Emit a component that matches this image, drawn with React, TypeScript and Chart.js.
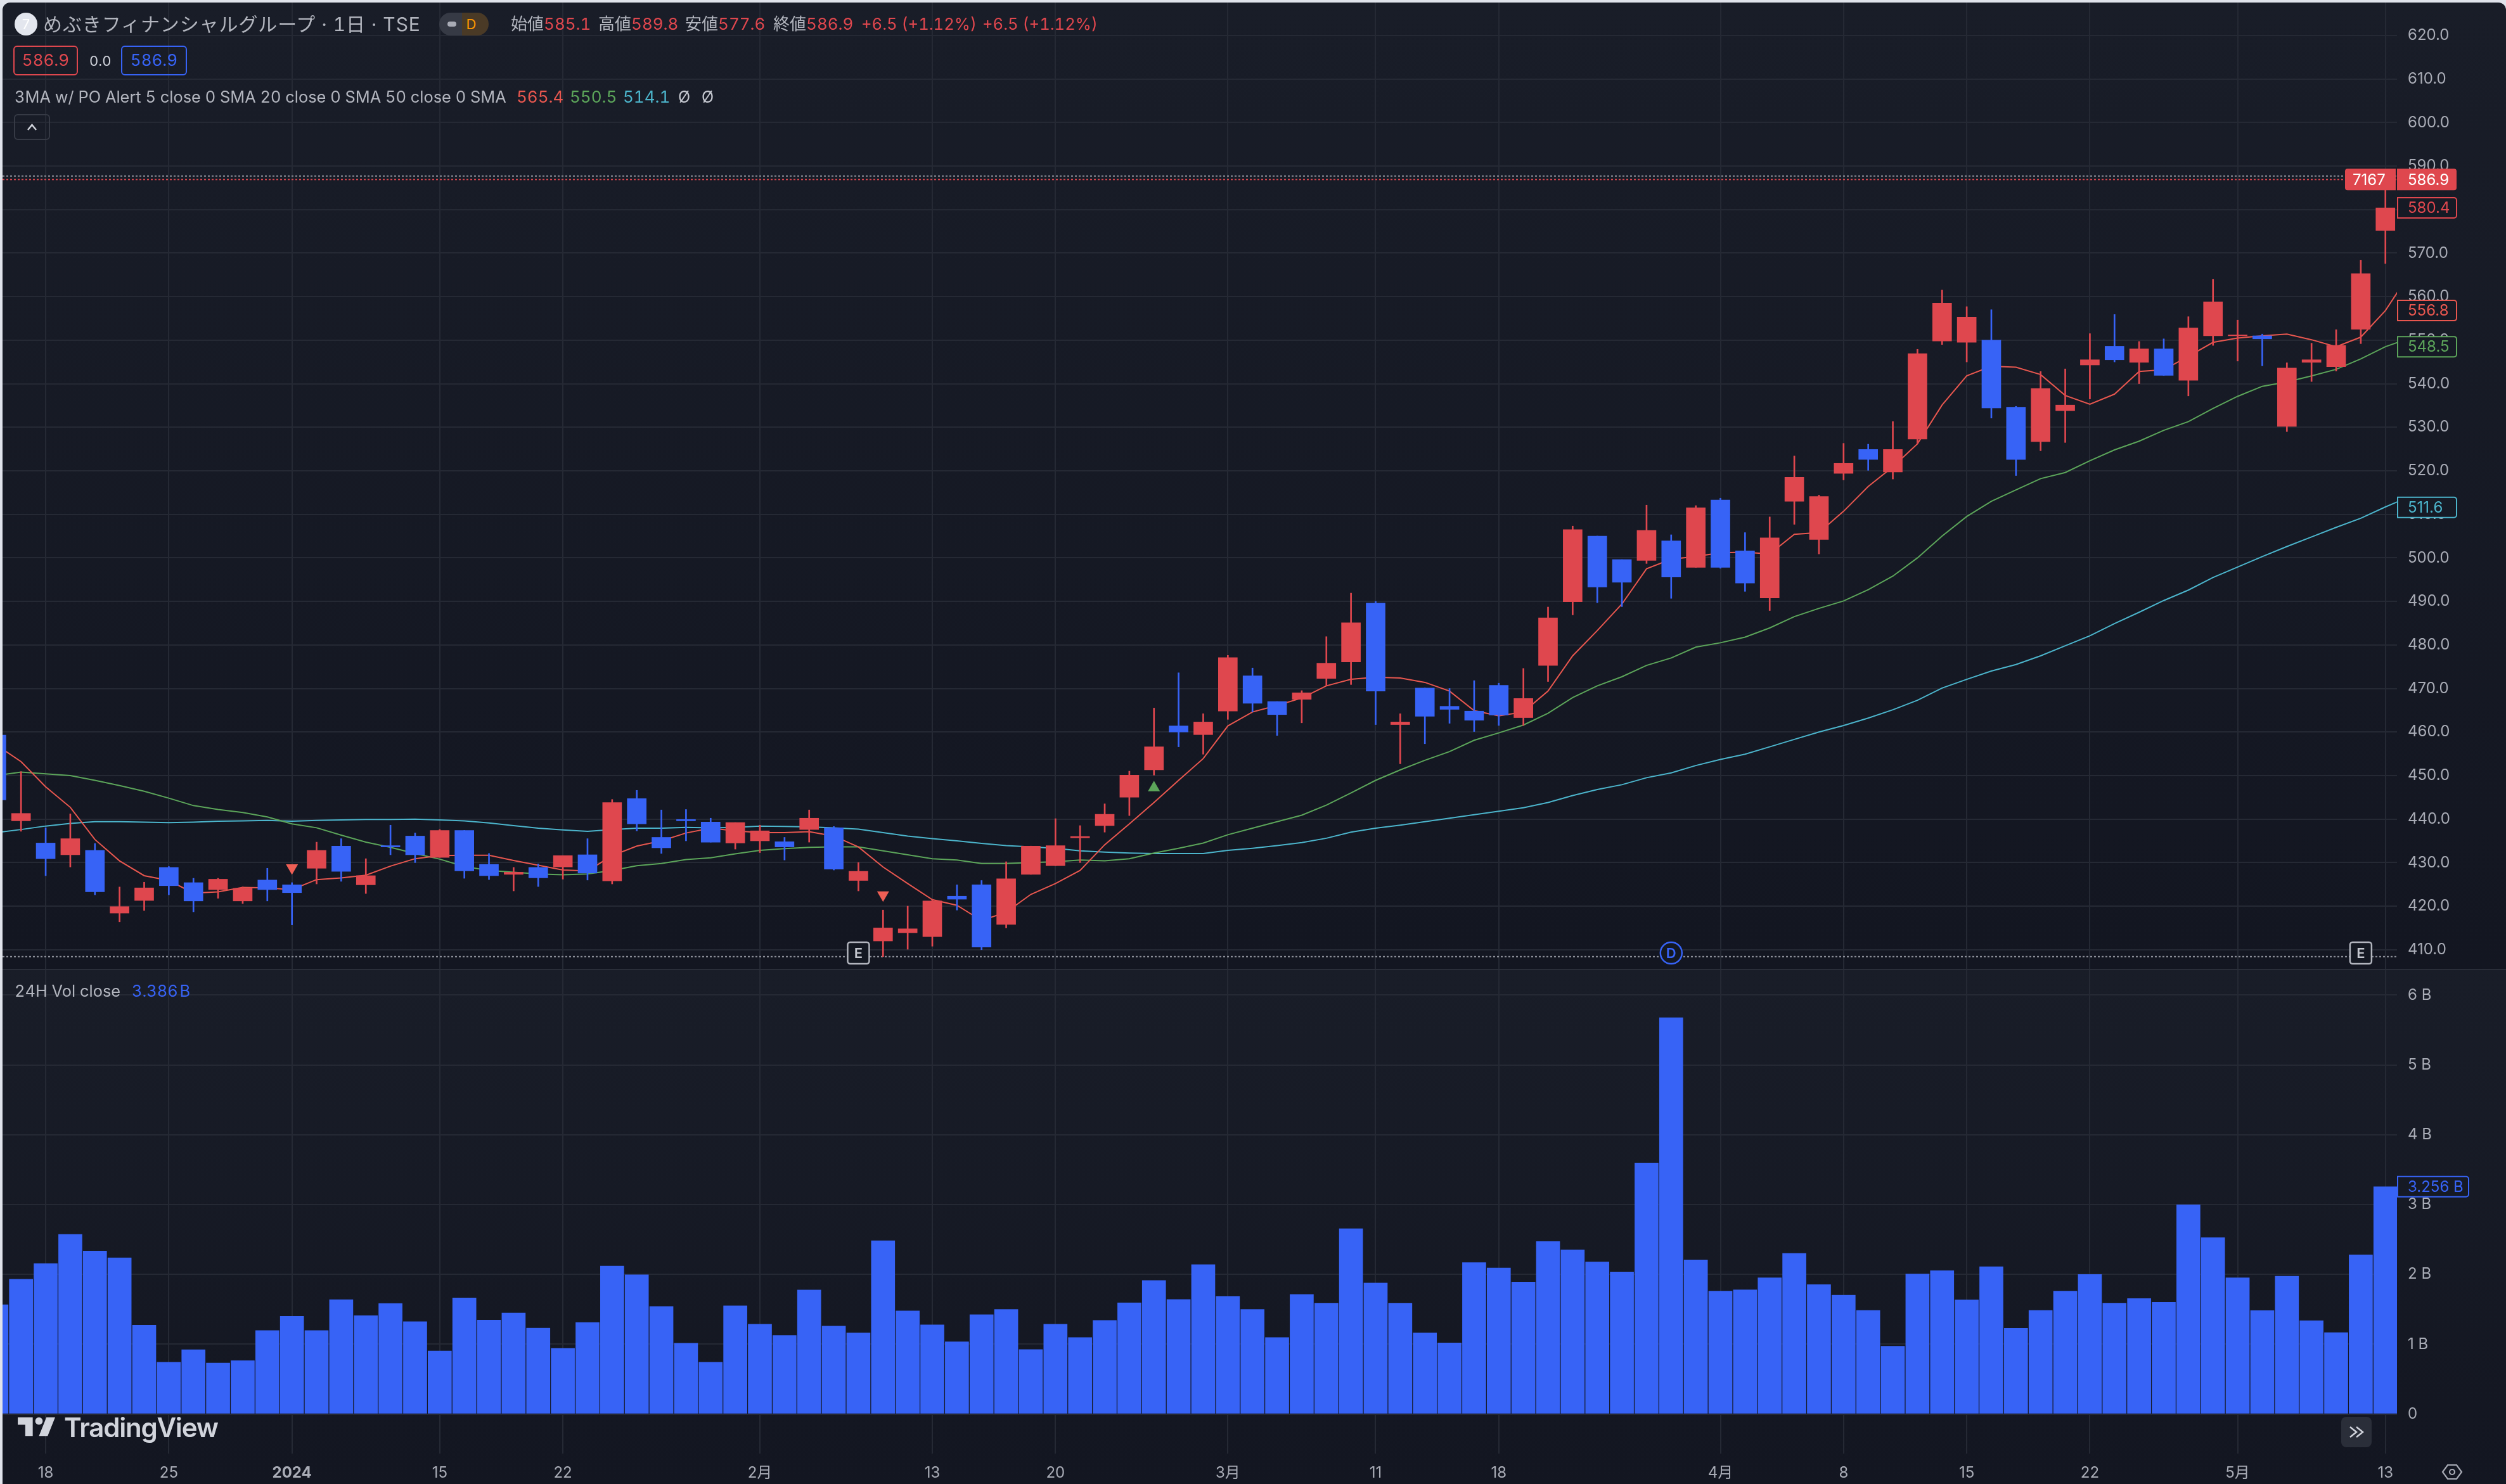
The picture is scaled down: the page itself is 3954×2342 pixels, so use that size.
import React, { useEffect, useRef } from "react";
import { Chart, registerables } from "chart.js";

Chart.register(...registerables);

// ---------- data (index 98 lies just past the right edge of the plot) ----------
const opens = [459.3,439.6,434.5,431.8,432.8,418.4,421.3,428.9,425.4,423.8,421.2,426.0,424.9,428.7,433.8,424.9,433.9,436.1,431.2,437.4,429.6,427.3,428.9,429.0,431.8,425.8,444.7,435.8,439.9,439.3,434.5,435.0,434.8,437.6,438.0,425.9,412.0,413.9,413.0,422.3,424.9,415.8,427.3,429.3,435.7,438.5,445.0,451.3,461.4,459.4,464.8,472.9,467.0,467.5,472.3,476.1,489.6,461.7,470.1,465.9,464.8,470.7,463.3,475.3,489.9,505.0,499.6,499.4,503.9,497.8,513.3,501.6,490.8,513.0,504.2,519.4,524.9,519.7,527.3,549.8,549.5,550.0,534.6,526.7,533.8,544.3,548.6,544.9,548.0,540.8,551.0,551.0,551.0,530.2,544.9,543.9,552.5,575.2,585.1];
const highs = [460.5,450.9,438.0,441.2,434.4,424.4,425.5,429.1,426.4,426.4,424.4,428.7,425.4,434.7,435.5,430.9,438.6,436.8,437.6,437.4,432.1,428.9,429.7,431.6,435.5,444.5,446.6,442.1,442.2,440.2,439.2,438.6,435.8,442.1,438.3,430.0,419.1,420.0,421.5,424.9,425.9,430.2,433.8,440.1,438.5,443.5,451.0,465.5,473.6,464.2,477.6,474.7,467.0,469.5,481.9,491.9,490.0,464.2,470.1,470.0,471.8,471.2,474.6,488.7,507.3,505.0,499.6,512.1,505.3,512.0,513.7,505.8,509.4,523.4,514.4,526.3,526.1,531.3,547.9,561.5,557.7,557.0,534.8,542.8,543.4,551.5,555.9,549.7,550.3,555.4,564.0,554.6,551.4,544.8,549.3,552.4,568.4,587.7,589.8];
const lows = [441.0,437.2,427.0,429.0,422.6,416.4,419.0,422.6,418.7,421.8,420.6,421.2,415.7,425.1,425.7,422.9,431.8,430.0,431.2,426.4,426.1,423.5,424.5,426.2,426.0,425.1,437.3,432.1,435.0,434.7,433.1,432.3,430.6,434.7,428.3,423.5,408.4,410.1,410.8,419.1,410.0,415.0,427.3,429.3,430.0,437.0,440.8,450.1,456.6,454.9,462.9,464.6,459.2,462.1,470.6,470.9,461.7,452.7,457.3,462.0,460.1,461.5,461.5,471.6,486.9,489.7,488.8,498.7,490.7,497.8,497.6,492.3,487.9,507.7,500.9,517.9,520.1,518.1,526.2,549.0,545.0,532.1,518.9,524.6,526.5,536.5,545.0,540.0,541.9,537.2,548.8,545.2,544.1,529.0,540.5,542.9,549.2,567.6,577.6];
const closes = [444.4,441.3,430.9,435.5,423.3,419.9,424.2,424.7,421.2,426.2,424.1,423.8,423.1,432.8,428.0,427.0,433.6,431.8,437.4,428.1,427.0,427.8,426.5,431.6,427.6,443.8,438.9,433.4,439.6,434.7,439.2,437.3,433.6,440.2,428.5,428.0,415.0,414.8,421.2,421.6,410.6,426.3,433.8,433.9,436.0,441.1,450.1,456.6,460.0,462.3,477.1,466.6,464.0,469.0,475.8,485.1,469.4,462.3,463.6,465.2,462.7,463.9,467.7,486.2,506.5,493.3,494.4,506.3,495.6,511.5,497.8,494.2,504.6,518.5,514.1,521.7,522.6,524.9,546.9,558.5,555.3,534.4,522.6,538.9,535.1,545.5,545.5,548.0,541.9,552.8,558.8,551.2,550.3,543.6,545.5,548.8,565.3,580.4,586.9];
const sma5 = [457.0,453.2,447.4,442.7,435.3,430.4,427.0,425.9,423.0,423.3,424.3,424.2,423.8,426.1,426.5,427.1,429.2,430.9,431.6,431.7,431.7,430.5,429.4,428.3,428.1,431.6,433.8,435.0,436.8,437.9,437.3,436.9,436.9,437.1,436.1,433.6,429.0,425.2,421.5,420.2,416.7,418.6,422.7,425.2,428.2,434.1,438.9,443.8,448.9,453.9,461.4,464.6,466.1,467.8,470.6,472.1,472.6,472.4,471.4,469.4,464.9,463.7,464.6,469.4,477.5,483.3,489.4,497.5,499.7,500.3,501.2,501.3,500.9,505.4,505.8,510.7,516.4,520.9,526.2,535.1,541.8,544.0,543.8,542.1,537.3,535.3,537.6,542.8,543.2,546.3,549.5,550.5,551.0,551.4,550.1,548.5,550.7,556.8,565.4];
const sma20 = [450.0,450.8,450.4,450.0,448.9,447.7,446.4,444.8,443.1,442.2,441.5,440.5,438.9,438.0,436.3,434.7,433.5,432.1,430.8,429.1,428.2,427.8,427.4,427.2,427.4,428.2,429.3,429.8,430.7,431.1,432.0,432.8,433.2,433.5,433.6,433.6,432.7,431.8,430.9,430.6,429.8,429.8,430.0,430.2,430.6,430.4,430.9,432.2,433.3,434.5,436.4,437.9,439.4,440.9,443.2,446.0,448.9,451.3,453.5,455.5,458.1,459.8,461.6,464.3,467.9,470.6,472.7,475.3,477.0,479.5,480.5,481.8,483.9,486.5,488.4,490.1,492.7,495.8,500.0,505.0,509.5,513.0,515.6,518.2,519.6,522.3,524.8,526.8,529.3,531.3,534.3,537.1,539.4,540.4,541.8,543.3,545.7,548.5,550.5];
const sma50 = [436.9,437.6,438.4,439.0,439.4,439.4,439.3,439.2,439.3,439.5,439.6,439.7,439.5,439.7,439.8,439.9,439.9,440.0,439.8,439.6,439.1,438.5,437.9,437.5,437.2,437.6,437.9,437.9,438.1,438.0,438.1,438.4,438.3,438.2,438.0,437.7,436.9,436.1,435.5,435.0,434.4,433.9,433.6,433.3,432.7,432.4,432.2,432.1,432.1,432.1,432.8,433.3,433.9,434.6,435.6,437.0,437.9,438.6,439.4,440.2,441.0,441.8,442.6,443.8,445.4,446.8,447.9,449.5,450.6,452.3,453.7,454.9,456.6,458.3,460.0,461.5,463.2,465.1,467.3,470.1,472.1,474.0,475.5,477.5,479.8,482.1,484.9,487.5,490.2,492.6,495.5,497.9,500.3,502.6,504.8,507.0,509.1,511.7,514.1];
const volumes = [1.564,1.930,2.154,2.573,2.334,2.237,1.272,0.741,0.921,0.731,0.765,1.194,1.399,1.194,1.637,1.408,1.584,1.321,0.902,1.662,1.345,1.447,1.228,0.941,1.311,2.119,1.994,1.540,1.014,0.742,1.549,1.286,1.124,1.775,1.258,1.161,2.482,1.477,1.277,1.033,1.421,1.496,0.923,1.286,1.095,1.340,1.593,1.912,1.640,2.138,1.684,1.496,1.095,1.712,1.587,2.654,1.875,1.587,1.161,1.017,2.169,2.090,1.890,2.471,2.350,2.178,2.034,3.595,5.676,2.206,1.760,1.779,1.951,2.299,1.853,1.700,1.482,0.971,2.006,2.053,1.635,2.109,1.226,1.482,1.760,1.997,1.588,1.653,1.598,2.996,2.527,1.951,1.481,1.974,1.335,1.165,2.280,3.256,3.386];

const dateTickIndex = [2,7,12,18,23,31,38,43,50,56,61,70,75,80,85,91,97];
const dateTickLabels = ["18","25","2024","15","22","2月","13","20","3月","11","18","4月","8","15","22","5月","13"];
const priceTicks = [410,420,430,440,450,460,470,480,490,500,510,520,530,540,550,560,570,580,590,600,610,620];
const volumeTicks = [0,1,2,3,4,5,6];

const sellSignals = [{ x: 12, y: 428.8 }, { x: 36, y: 422.6 }];
const buySignals = [{ x: 47, y: 447.2 }];
const earningsBadges = [{ x: 35, text: "E" }, { x: 96, text: "E" }];
const dividendBadges = [{ x: 68, text: "D" }];

const rangeHigh = 587.7;
const rangeLow = 408.4;
const lastPrice = 586.9;
const countdownText = "7167";
const outlineTags = [
  { value: 580.4, color: "#df474e" },
  { value: 556.8, color: "#e8574f" },
  { value: 548.5, color: "#5ca55a" },
  { value: 511.6, color: "#4cb5cc" },
];
const volumeTag = 3.256;

// ---------- style ----------
const RED = "#df474e";
const BLUE = "#3763f6";
const GRID = "#252934";
const TICK = "#a9acb6";
const FONT = "Inter, Roboto, sans-serif";
const CJK = "Inter, 'Noto Sans CJK JP', sans-serif";
const TICK_FONT = { family: "Inter, 'Noto Sans CJK JP', sans-serif", size: 24 };

const xMin = 0.2486;
const xMax = 97.47;
const idx = opens.map((_, i) => i);

const paneBackground = {
  id: "paneBackground",
  beforeDraw(chart: any) {
    const { ctx, width, height } = chart;
    const g = ctx.createLinearGradient(0, 0, 0, height);
    g.addColorStop(0, "#191d28");
    g.addColorStop(1, "#131621");
    ctx.save();
    ctx.fillStyle = g;
    ctx.fillRect(0, 0, width, height);
    ctx.restore();
  },
};

function tagBox(ctx: any, x: number, y: number, w: number, h: number, r: any) {
  ctx.beginPath();
  ctx.roundRect(x, y, w, h, r);
}

const priceOverlay = {
  id: "priceOverlay",
  afterDraw(chart: any) {
    const { ctx, chartArea: a, scales } = chart;
    const y = scales.y;
    const x = scales.x;
    ctx.save();
    ctx.font = `24px ${FONT}`;
    ctx.textBaseline = "middle";
    ctx.textAlign = "left";
    // outlined last-value tags
    outlineTags.forEach((t) => {
      const py = y.getPixelForValue(t.value);
      tagBox(ctx, a.right + 1, py - 16, 93, 32, [0, 4, 4, 0]);
      ctx.fillStyle = "#161a25";
      ctx.fill();
      ctx.strokeStyle = t.color;
      ctx.lineWidth = 2;
      ctx.stroke();
      ctx.fillStyle = t.color;
      ctx.fillText(t.value.toFixed(1), a.right + 17, py + 1);
    });
    // current price tag and countdown
    const lp = y.getPixelForValue(lastPrice);
    ctx.fillStyle = RED;
    tagBox(ctx, a.right, lp - 17, 94, 34, [0, 4, 4, 0]);
    ctx.fill();
    tagBox(ctx, a.right - 82, lp - 17, 80, 34, [4, 0, 0, 4]);
    ctx.fill();
    ctx.fillStyle = "#ffffff";
    ctx.fillText(lastPrice.toFixed(1), a.right + 17, lp + 1);
    ctx.fillText(countdownText, a.right - 70, lp + 1);
    // earnings / dividend badges
    ctx.textAlign = "center";
    ctx.font = `600 22px ${FONT}`;
    const by = a.bottom - 25;
    earningsBadges.forEach((b) => {
      const px = x.getPixelForValue(b.x);
      tagBox(ctx, px - 17, by - 17, 34, 34, 4);
      ctx.fillStyle = "#141822";
      ctx.fill();
      ctx.strokeStyle = "#b2b5be";
      ctx.lineWidth = 2.5;
      ctx.stroke();
      ctx.fillStyle = "#c4c7cf";
      ctx.fillText(b.text, px, by + 1);
    });
    dividendBadges.forEach((b) => {
      const px = x.getPixelForValue(b.x);
      ctx.beginPath();
      ctx.arc(px, by, 17, 0, Math.PI * 2);
      ctx.fillStyle = "#141822";
      ctx.fill();
      ctx.strokeStyle = BLUE;
      ctx.lineWidth = 2.5;
      ctx.stroke();
      ctx.fillStyle = BLUE;
      ctx.fillText(b.text, px, by + 1);
    });
    ctx.restore();
  },
};

const volumeOverlay = {
  id: "volumeOverlay",
  afterDraw(chart: any) {
    const { ctx, chartArea: a, scales, width } = chart;
    const py = scales.y.getPixelForValue(volumeTag);
    ctx.save();
    ctx.fillStyle = "#2a2e39";
    ctx.fillRect(0, 0, width, 2);
    tagBox(ctx, a.right + 1, py - 16, 112, 32, [0, 4, 4, 0]);
    ctx.fillStyle = "#161a25";
    ctx.fill();
    ctx.strokeStyle = BLUE;
    ctx.lineWidth = 2;
    ctx.stroke();
    ctx.fillStyle = BLUE;
    ctx.font = `24px ${FONT}`;
    ctx.textAlign = "left";
    ctx.textBaseline = "middle";
    ctx.fillText(`${volumeTag.toFixed(3)} B`, a.right + 17, py + 1);
    ctx.restore();
  },
};

function xScale(showLabels: boolean) {
  return {
    type: "linear",
    min: xMin,
    max: xMax,
    offset: false,
    afterBuildTicks(s: any) {
      s.ticks = dateTickIndex.map((v) => ({ value: v }));
    },
    afterFit(s: any) {
      s.height = showLabels ? 48 : 0;
      s.paddingLeft = 0;
      s.paddingRight = 0;
    },
    grid: { color: GRID, lineWidth: 2, drawTicks: false, offset: false },
    border: { display: false },
    ticks: {
      display: showLabels,
      autoSkip: false,
      maxRotation: 0,
      padding: 16,
      color: TICK,
      font: (c: any) => ({
        ...TICK_FONT,
        weight: dateTickLabels[dateTickIndex.indexOf(c.tick?.value)] === "2024" ? "bold" : "normal",
      }),
      callback: (v: number) => dateTickLabels[dateTickIndex.indexOf(v)] ?? "",
    },
  };
}

function yScale(min: number, max: number, tickValues: number[], fmt: (v: number) => string) {
  return {
    position: "right",
    min,
    max,
    afterBuildTicks(s: any) {
      s.ticks = tickValues.map((v) => ({ value: v }));
    },
    afterFit(s: any) {
      s.width = 172;
      s.paddingTop = 0;
      s.paddingBottom = 0;
    },
    grid: { color: GRID, lineWidth: 2, drawTicks: false },
    border: { display: false },
    ticks: { autoSkip: false, padding: 17, color: TICK, font: TICK_FONT, callback: fmt },
  };
}

const base = {
  responsive: false,
  animation: false,
  devicePixelRatio: 1,
  events: [],
  layout: { padding: 0, autoPadding: false },
  plugins: { legend: { display: false }, tooltip: { enabled: false }, title: { display: false } },
};

function lineSet(values: number[], color: string, label: string) {
  return {
    type: "line",
    label,
    order: 5,
    data: values.map((y, i) => ({ x: i, y })),
    borderColor: color,
    borderWidth: 2,
    pointRadius: 0,
    tension: 0,
  };
}

function rangeLine(value: number, color: string, label: string) {
  return {
    type: "line",
    label,
    order: 6,
    data: [{ x: xMin, y: value }, { x: xMax, y: value }],
    borderColor: color,
    borderWidth: 2,
    borderDash: [3, 3],
    pointRadius: 0,
  };
}

function signalSet(points: any[], color: string, rotation: number, label: string) {
  return {
    type: "scatter",
    label,
    order: 0,
    data: points,
    pointStyle: "triangle",
    pointRadius: 11,
    rotation,
    backgroundColor: color,
    borderWidth: 0,
  };
}

const barColor = idx.map((i) => (closes[i] >= opens[i] ? RED : BLUE));

function text(left: number, top: number, size: number, color: string, s: string, extra: any = {}) {
  return (
    <div
      style={{
        position: "absolute",
        left,
        top,
        fontFamily: CJK,
        fontSize: size,
        lineHeight: "34px",
        height: 34,
        color,
        whiteSpace: "pre",
        fontVariantNumeric: "tabular-nums",
        ...extra,
      }}
    >
      {s}
    </div>
  );
}

const ohlcLabels = ["始値", "高値", "安値", "終値"];
const ohlcValues = ["585.1", "589.8", "577.6", "586.9"];
const ohlcLeft = [806, 944, 1081, 1220];
const changeText = "+6.5 (+1.12%)";

export default function App() {
  const topRef = useRef<HTMLCanvasElement>(null);
  const botRef = useRef<HTMLCanvasElement>(null);

  useEffect(() => {
    document.body.style.margin = "0";
    const top = new Chart(topRef.current as any, {
      type: "bar",
      data: {
        datasets: [
          rangeLine(rangeHigh, "#8b8e98", "high"),
          rangeLine(rangeLow, "#8b8e98", "low"),
          rangeLine(lastPrice, RED, "last"),
          lineSet(sma5, "#e8574f", "SMA 5"),
          lineSet(sma20, "#5ca55a", "SMA 20"),
          lineSet(sma50, "#4cb5cc", "SMA 50"),
          {
            label: "wick",
            order: 3,
            grouped: false,
            barPercentage: 1,
            categoryPercentage: 1,
            maxBarThickness: 2,
            data: idx.map((i) => ({ x: i, y: [lows[i], highs[i]] })),
            backgroundColor: barColor,
          },
          {
            label: "body",
            order: 2,
            grouped: false,
            barPercentage: 1,
            categoryPercentage: 1,
            maxBarThickness: 30,
            data: idx.map((i) => ({ x: i, y: [opens[i], closes[i]] })),
            backgroundColor: barColor,
          },
          signalSet(sellSignals, "#ef5f55", 180, "sell"),
          signalSet(buySignals, "#5ca55a", 0, "buy"),
        ] as any,
      },
      options: {
        ...base,
        scales: {
          x: xScale(false),
          y: yScale(405.6, 627.55, priceTicks, (v: number) => v.toFixed(1)),
        },
      } as any,
      plugins: [paneBackground, priceOverlay],
    });
    const bottom = new Chart(botRef.current as any, {
      type: "bar",
      data: {
        datasets: [
          {
            label: "24H Vol",
            grouped: false,
            barPercentage: 1,
            categoryPercentage: 1,
            maxBarThickness: 37,
            data: idx.map((i) => ({ x: i, y: volumes[i] })),
            backgroundColor: BLUE,
          },
        ] as any,
      },
      options: {
        ...base,
        scales: {
          x: xScale(true),
          y: yScale(-0.567, 6.375, volumeTicks, (v: number) => (v === 0 ? "0" : `${v} B`)),
        },
      } as any,
      plugins: [paneBackground, volumeOverlay],
    });
    return () => {
      top.destroy();
      bottom.destroy();
    };
  }, []);

  return (
    <div style={{ position: "fixed", left: 0, top: 0, width: 3954, height: 2342, background: "#e0e3eb", overflow: "hidden" }}>
      <div style={{ position: "absolute", left: 4, top: 4, width: 3950, height: 2338, borderRadius: "12px 12px 0 0", overflow: "hidden" }}>
        <canvas ref={topRef} width={3950} height={1525} style={{ position: "absolute", left: 0, top: 0, width: 3950, height: 1525 }} />
        <canvas ref={botRef} width={3950} height={813} style={{ position: "absolute", left: 0, top: 1525, width: 3950, height: 813 }} />
      </div>

      {/* header */}
      <div style={{ position: "absolute", left: 23, top: 20, width: 36, height: 36, borderRadius: 18, background: "#e3e6ee", color: "#fff", fontFamily: FONT, fontSize: 22, lineHeight: "36px", textAlign: "center" }}>7</div>
      {text(68, 21, 30, "#b2b5be", "めぶきフィナンシャルグループ · 1日 · TSE", { letterSpacing: "0.9px" })}
      <div style={{ position: "absolute", left: 693, top: 20, width: 78, height: 36, borderRadius: 18, overflow: "hidden", display: "flex" }}>
        <div style={{ width: 39, background: "#363a45", position: "relative" }}>
          <div style={{ position: "absolute", left: 13, top: 14, width: 14, height: 8, borderRadius: 4, background: "#a9acb6" }} />
        </div>
        <div style={{ width: 39, background: "#4a3a26", color: "#ff9800", fontFamily: FONT, fontSize: 22, lineHeight: "36px", textAlign: "left", paddingLeft: 7 }}>D</div>
      </div>
      {ohlcLabels.map((l, i) => (
        <div key={l} style={{ position: "absolute", left: ohlcLeft[i], top: 21, height: 34, lineHeight: "34px", fontFamily: CJK, fontSize: 26, whiteSpace: "pre", color: "#b2b5be", fontVariantNumeric: "tabular-nums" }}>
          {l}<span style={{ color: RED }}>{ohlcValues[i]}</span>
        </div>
      ))}
      {text(1359, 21, 25.6, RED, changeText)}
      {text(1550, 21, 25.6, RED, changeText)}

      <div style={{ position: "absolute", left: 21, top: 72, width: 102, height: 47, border: `2.5px solid ${RED}`, borderRadius: 6, boxSizing: "border-box", color: RED, fontFamily: FONT, fontSize: 26, lineHeight: "42px", textAlign: "center", fontVariantNumeric: "tabular-nums" }}>586.9</div>
      {text(141, 79, 22, "#d1d4dc", "0.0", { fontFamily: FONT })}
      <div style={{ position: "absolute", left: 191, top: 72, width: 104, height: 47, border: `2.5px solid ${BLUE}`, borderRadius: 6, boxSizing: "border-box", color: BLUE, fontFamily: FONT, fontSize: 26, lineHeight: "42px", textAlign: "center", fontVariantNumeric: "tabular-nums" }}>586.9</div>

      {text(23, 136, 25.4, "#b2b5be", "3MA w/ PO Alert 5 close 0 SMA 20 close 0 SMA 50 close 0 SMA")}
      {text(815, 136, 26, "#e8574f", "565.4")}
      {text(899, 136, 26, "#5ca55a", "550.5")}
      {text(983, 136, 26, "#4cb5cc", "514.1")}
      {text(1070, 136, 25, "#c4c7cf", "Ø")}
      {text(1107, 136, 25, "#c4c7cf", "Ø")}

      <div style={{ position: "absolute", left: 22, top: 180, width: 57, height: 41, border: "2px solid #363a45", borderRadius: 6, boxSizing: "border-box" }}>
        <svg width="53" height="37" style={{ display: "block" }}><path d="M20 23 L26.5 15 L33 23" fill="none" stroke="#d1d4dc" strokeWidth="2.5" /></svg>
      </div>

      {/* volume pane legend */}
      {text(23, 1547, 25.4, "#b2b5be", "24H Vol close")}
      {text(208, 1547, 25.4, BLUE, "3.386 B", { wordSpacing: "-4px" })}

      {/* logo */}
      <svg style={{ position: "absolute", left: 24, top: 2225 }} width="71" height="55" viewBox="0 0 36 28">
        <path fill="#d1d4dc" d="M14 6H2v6h6v9h6V6Zm12 15h-7l6-15h7l-6 15Zm-7-9a3 3 0 1 0 0-6 3 3 0 0 0 0 6Z" />
      </svg>
      {text(101, 2230, 42, "#d1d4dc", "TradingView", { fontFamily: FONT, fontWeight: 600, lineHeight: "46px", height: 46, letterSpacing: "-1.2px" })}

      {/* go-to-realtime button */}
      <div style={{ position: "absolute", left: 3694, top: 2236, width: 48, height: 48, background: "#2a2e39", borderRadius: 8 }}>
        <svg width="48" height="48" style={{ display: "block" }}><path d="M14 16 L24 24 L14 32 M24 16 L34 24 L24 32" fill="none" stroke="#d1d4dc" strokeWidth="2.5" /></svg>
      </div>
      {/* axis settings icon */}
      <svg style={{ position: "absolute", left: 3852, top: 2308 }} width="34" height="30" viewBox="0 0 34 30">
        <path d="M10 4 H24 L32 15 L24 26 H10 L2 15 Z" fill="none" stroke="#a9acb6" strokeWidth="2.2" />
        <circle cx="17" cy="15" r="4" fill="none" stroke="#a9acb6" strokeWidth="2.2" />
      </svg>
    </div>
  );
}
